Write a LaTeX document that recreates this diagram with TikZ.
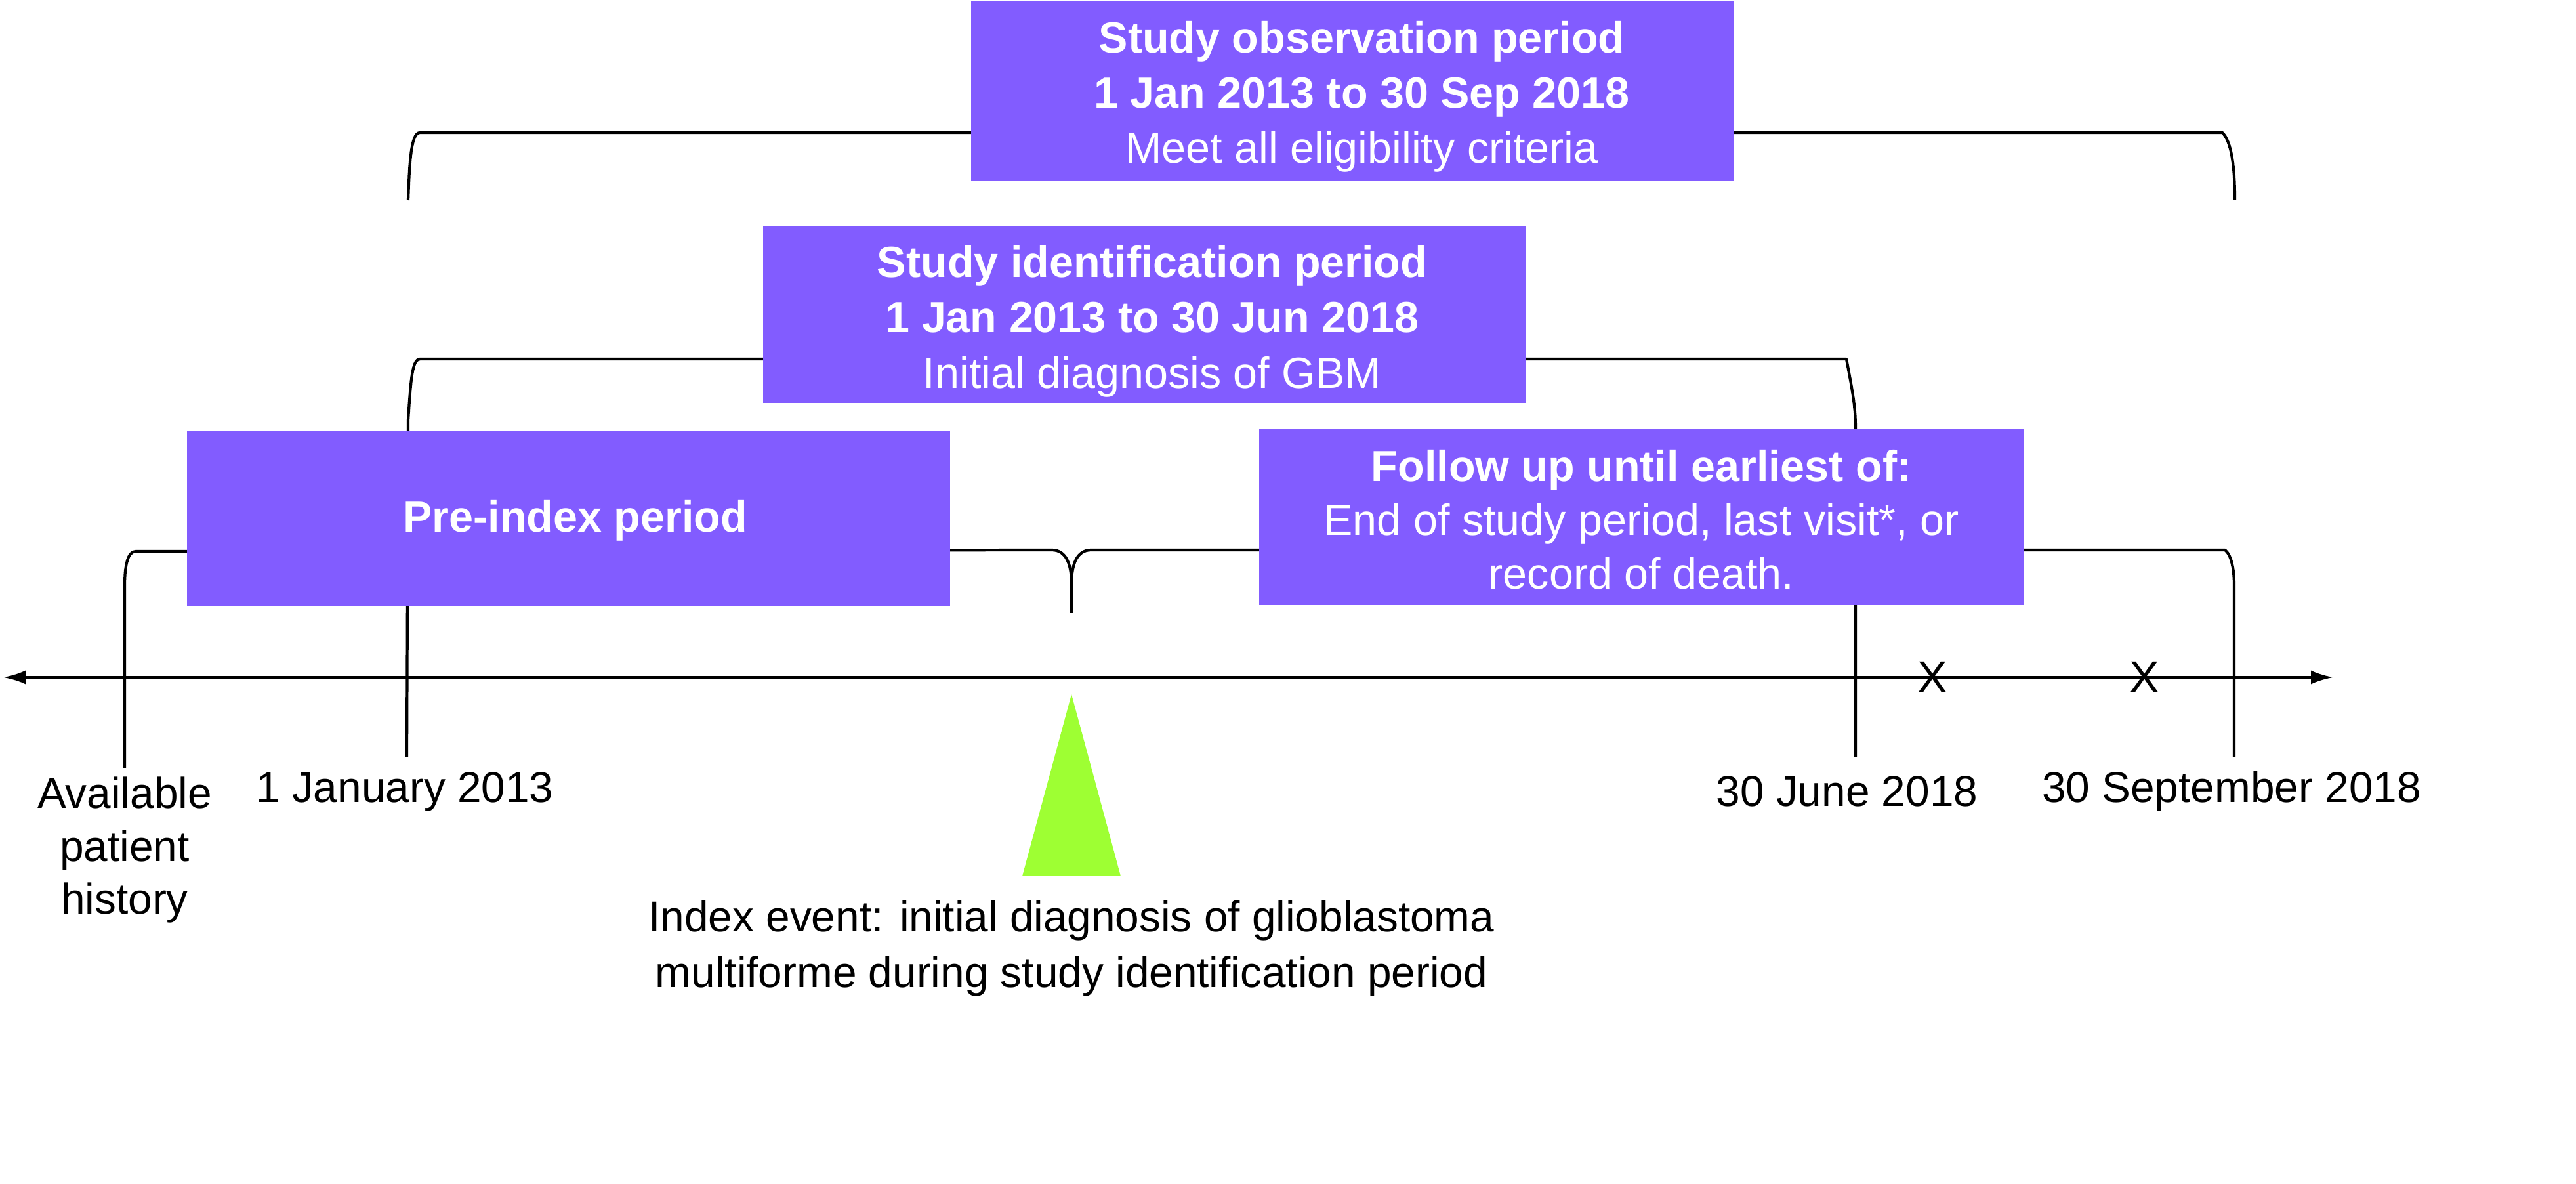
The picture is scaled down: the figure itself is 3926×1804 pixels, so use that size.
\documentclass[tikz,border=0pt]{standalone}
\usepackage{fontspec}
\setmainfont{Liberation Sans}
\usetikzlibrary{arrows.meta}
\definecolor{boxpurple}{RGB}{130,92,255}
\definecolor{markgreen}{RGB}{158,255,51}
\tikzset{
  line/.style={line width=1.2pt, black, line join=round},
  period/.style={fill=boxpurple, draw=none, inner sep=0pt, anchor=north west},
  boxtext/.style={text=white, align=center, inner sep=0pt,
    font=\fontsize{18.9pt}{23.9pt}\selectfont},
  lbl/.style={align=center, inner sep=0pt, font=\fontsize{18.7pt}{22.8pt}\selectfont},
  xmark/.style={inner sep=0pt, font=\fontsize{19.5pt}{22pt}\selectfont}
}
\begin{document}
\begin{tikzpicture}[x=0.01cm, y=-0.01cm]
\useasboundingbox (0,0) rectangle (3926,1804);

% timeline axis
\coordinate (axL) at (5,1032);
\coordinate (axR) at (3556,1032);
\draw[line, {Latex[length=0.34cm,width=0.21cm]}-{Latex[length=0.34cm,width=0.21cm]}] (axL) -- (axR);

% top brace (observation period)
\draw[line] (622,305) .. controls (624,250) and (626,202) .. (640,202) -- (3387,202)
  .. controls (3400,215) and (3406,250) .. (3406,305);

% middle brace (identification period) with ticks down to the axis
\draw[line] (620,1153) -- (622,640) .. controls (626,580) and (628,547) .. (640,547)
  -- (2814,547) .. controls (2824,600) and (2828,620) .. (2828,655) -- (2828,1153);

% bottom brace (pre-index / follow-up) with cusp at index event
\draw[line] (190,1170) -- (190,893) .. controls (190,860) and (195,840) .. (207,840)
  -- (1603,838) .. controls (1625,838) and (1633,860) .. (1633,890) -- (1633,934);
\draw[line] (1633,890) .. controls (1633,860) and (1641,838) .. (1663,838)
  -- (3391,838) .. controls (3400,845) and (3405,865) .. (3405,892) -- (3405,1153);

% boxes
\node[period, minimum width=11.63cm, minimum height=2.75cm] (obs) at (1479,0) {};
\node[period, minimum width=11.62cm, minimum height=2.70cm] (ident) at (1162,343) {};
\node[period, minimum width=11.63cm, minimum height=2.66cm] (pre) at (284,656) {};
\node[period, minimum width=11.65cm, minimum height=2.68cm] (follow) at (1918,653) {};

\node[boxtext] (obstext) at ([xshift=0.14cm, yshift=-0.09cm]obs.center)
  {\textbf{Study observation period}\\\textbf{1 Jan 2013 to 30 Sep 2018}\\Meet all eligibility criteria};
\node[boxtext] (identtext) at ([xshift=0.12cm, yshift=-0.11cm]ident.center)
  {\textbf{Study identification period}\\\textbf{1 Jan 2013 to 30 Jun 2018}\\Initial diagnosis of GBM};
\node[boxtext] (pretext) at ([xshift=0.1cm, yshift=-0.04cm]pre.center)
  {\textbf{Pre-index period}};
\node[boxtext, font=\fontsize{18.9pt}{23.3pt}\selectfont] (followtext) at ([yshift=-0.04cm]follow.center)
  {\textbf{Follow up until earliest of:}\\End of study period, last visit*, or\\record of death.};

% index event marker
\coordinate (tip) at (1633,1058);
\coordinate (bl) at (1558,1335);
\coordinate (br) at (1708,1335);
\fill[markgreen] (tip) -- (bl) -- (br) -- cycle;

% censoring marks
\node[xmark] (x1) at (2945,1032) {X};
\node[xmark] (x2) at (3268,1032) {X};

% labels
\node[lbl] (avail) at (190,1295) {Available\\patient\\history};
\node[lbl] (jan) at (617,1206) {1 January 2013};
\node[lbl] (jun) at (2815,1206) {30 June 2018};
\node[lbl] (sep) at (3401,1206) {30 September 2018};
\node[lbl, font=\fontsize{18.7pt}{24.2pt}\selectfont] (index) at (1633,1445)
  {Index event: initial diagnosis of glioblastoma\\multiforme during study identification period};
\end{tikzpicture}
\end{document}
